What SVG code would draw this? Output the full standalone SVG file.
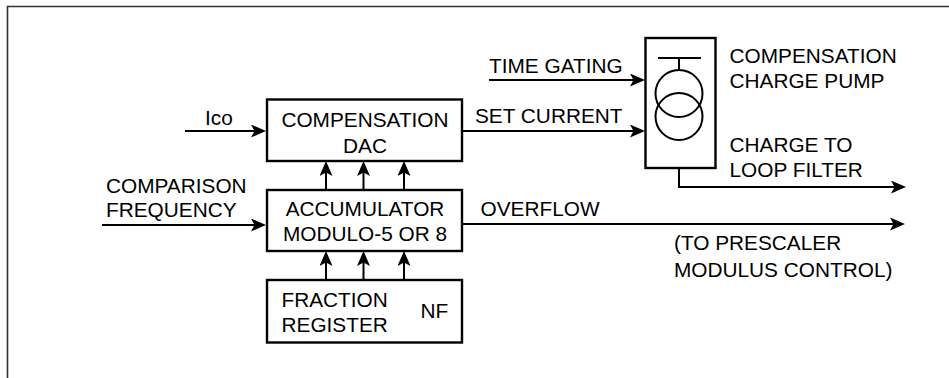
<svg xmlns="http://www.w3.org/2000/svg" width="949" height="378" viewBox="0 0 949 378">
<style>
.box{fill:#fff;stroke:#000;stroke-width:2.4}
.ln{fill:none;stroke:#000;stroke-width:2}
.ar{fill:none;stroke:#000;stroke-width:2;marker-end:url(#ah)}
text{font-family:"Liberation Sans",Arial,sans-serif;font-size:20.8px;fill:#000}
.c{text-anchor:middle}
</style>
<defs>
<marker id="ah" markerUnits="userSpaceOnUse" viewBox="0 0 15 13" refX="6" refY="6.5" markerWidth="15" markerHeight="13" orient="auto">
<path d="M0,0 L15,6.5 L0,13 L3.5,6.5 Z" fill="#000"/>
</marker>
</defs>
<rect width="949" height="378" fill="#fff"/>
<path d="M949,6.5 H7.5 V378" fill="none" stroke="#333" stroke-width="1.6"/>

<g id="connectors">
<line class="ar" x1="185" y1="131" x2="257" y2="131"/>
<line class="ar" x1="102" y1="225" x2="257" y2="225"/>
<line class="ar" x1="462" y1="131" x2="636" y2="131"/>
<line class="ar" x1="489" y1="80" x2="636" y2="80"/>
<line class="ar" x1="462" y1="224" x2="896" y2="224"/>
<path class="ar" d="M679,140 V187 H897"/>
<line class="ar" x1="326" y1="190" x2="326" y2="170"/>
<line class="ar" x1="363.5" y1="190" x2="363.5" y2="170"/>
<line class="ar" x1="404" y1="190" x2="404" y2="170"/>
<line class="ar" x1="326" y1="280" x2="326" y2="260"/>
<line class="ar" x1="363.5" y1="280" x2="363.5" y2="260"/>
<line class="ar" x1="404" y1="280" x2="404" y2="260"/>
</g>

<g id="dac">
<rect class="box" x="267" y="99.5" width="195" height="61.5"/>
<text class="c" x="365" y="127.3">COMPENSATION</text>
<text class="c" x="365" y="152.7">DAC</text>
</g>

<g id="accumulator">
<rect class="box" x="267" y="190" width="195" height="61"/>
<text class="c" x="365" y="215.7">ACCUMULATOR</text>
<text class="c" x="365" y="241">MODULO-5 OR 8</text>
</g>

<g id="fraction-register">
<rect class="box" x="267" y="280" width="195" height="62.5"/>
<text x="281.5" y="306.7">FRACTION</text>
<text x="281.5" y="331.7">REGISTER</text>
<text x="420.5" y="317.7">NF</text>
</g>

<g id="charge-pump">
<rect class="box" x="645.5" y="38" width="70" height="130"/>
<line class="ln" x1="658" y1="58" x2="701" y2="58"/>
<line class="ln" x1="679" y1="58" x2="679" y2="70"/>
<circle class="ln" cx="679" cy="93.5" r="23.5"/>
<circle class="ln" cx="679" cy="116.5" r="23.5"/>
<text x="729.5" y="63.3">COMPENSATION</text>
<text x="729.5" y="88.3">CHARGE PUMP</text>
<text x="729.5" y="151.7">CHARGE TO</text>
<text x="729.5" y="176.7">LOOP FILTER</text>
</g>

<g id="labels">
<text x="205" y="125">Ico</text>
<text x="106" y="192.7">COMPARISON</text>
<text x="106" y="217.3">FREQUENCY</text>
<text x="475" y="123.3">SET CURRENT</text>
<text x="489" y="73.3">TIME GATING</text>
<text x="480.5" y="216">OVERFLOW</text>
<text x="674" y="250">(TO PRESCALER</text>
<text x="674" y="276.7">MODULUS CONTROL)</text>
</g>
</svg>
